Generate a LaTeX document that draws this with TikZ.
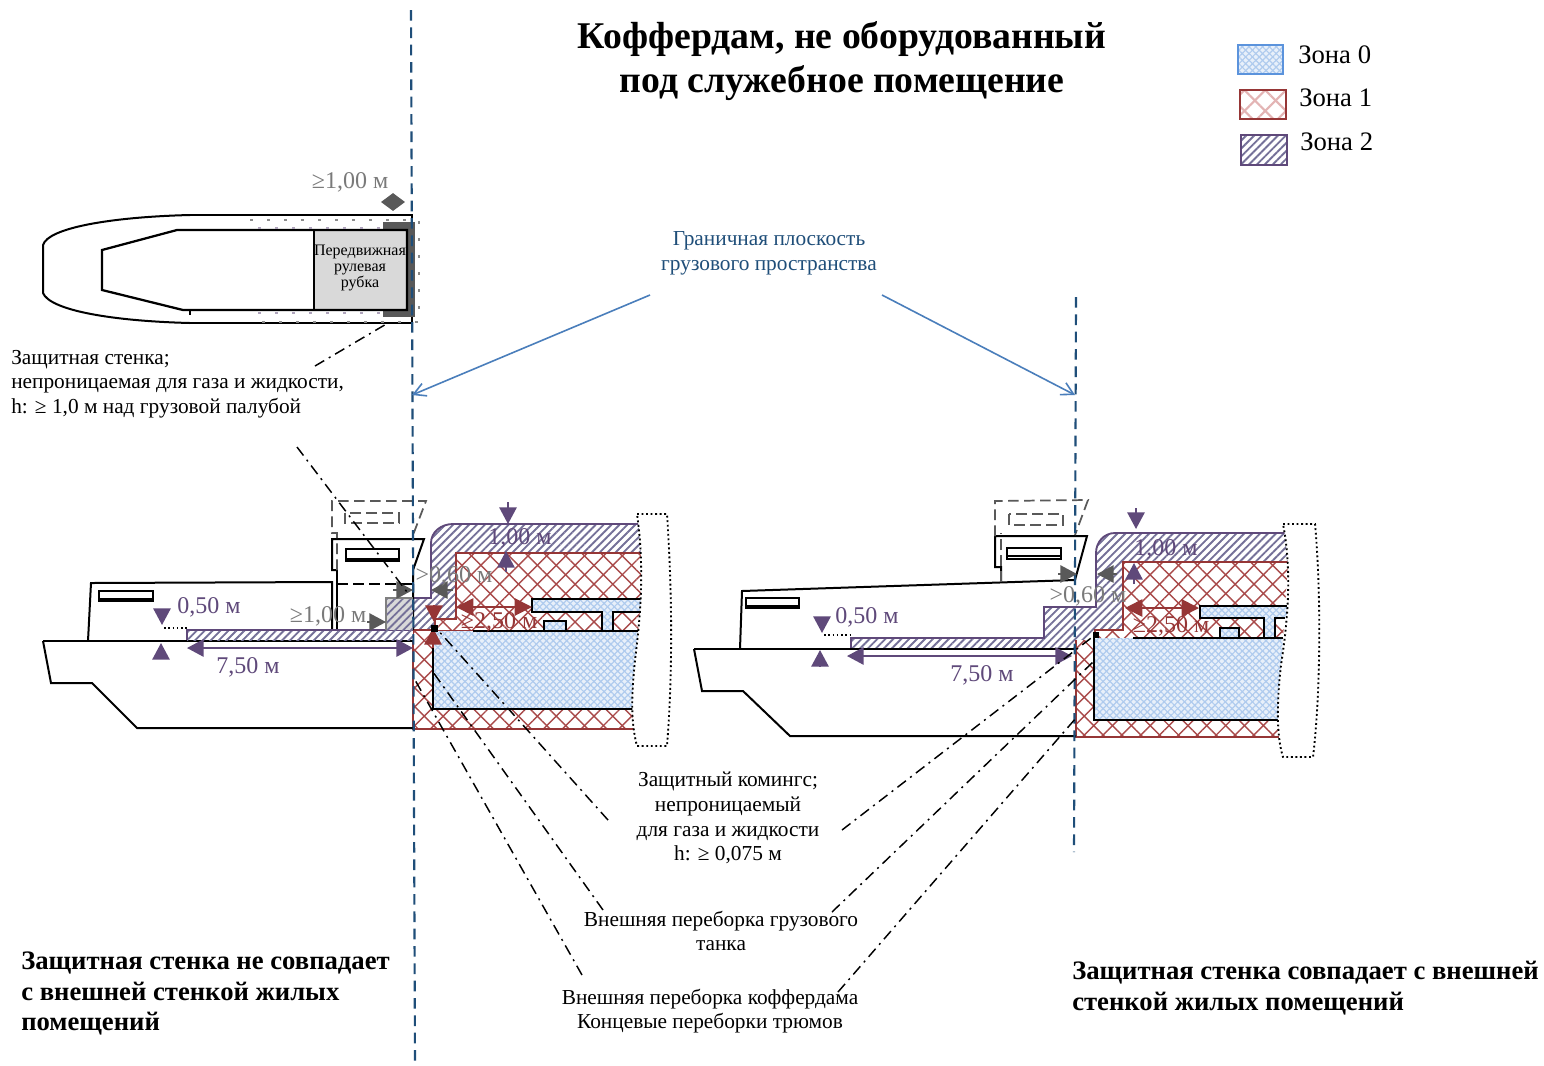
\documentclass[tikz,border=0pt]{standalone}
\usepackage{fontspec}
\setmainfont{Liberation Serif}
\usetikzlibrary{arrows.meta,patterns.meta}
\definecolor{zbase}{HTML}{E8F0FA}
\definecolor{zblue}{HTML}{AFCBEE}
\definecolor{zblueedge}{HTML}{5B93DC}
\definecolor{zred}{HTML}{A94A4A}
\definecolor{zpale}{HTML}{E3B4B4}
\definecolor{zrededge}{HTML}{963636}
\definecolor{zpurp}{HTML}{747098}
\definecolor{zpurpedge}{HTML}{5F497A}
\definecolor{dimgrey}{HTML}{595959}
\definecolor{txtgrey}{HTML}{7A7A7A}
\definecolor{planeblue}{HTML}{1F4E79}
\definecolor{arrowblue}{HTML}{4A7EBB}
\tikzset{
 zoneA/.style={fill=zbase,
   postaction={pattern={Lines[angle=45,distance=3.6pt,line width=.9pt]},pattern color=zblue},
   postaction={pattern={Lines[angle=-45,distance=3.6pt,line width=.9pt]},pattern color=zblue}},
 zoneB/.style={fill=white,
   postaction={pattern={Lines[angle=45,distance=10pt,line width=1.05pt]},pattern color=zred},
   postaction={pattern={Lines[angle=-45,distance=10pt,line width=1.05pt]},pattern color=zred}},
 zoneBpale/.style={fill=white,
   postaction={pattern={Lines[angle=45,distance=11pt,line width=1.5pt]},pattern color=zpale},
   postaction={pattern={Lines[angle=-45,distance=11pt,line width=1.5pt]},pattern color=zpale}},
 zoneC/.style={fill=white,
   postaction={pattern={Lines[angle=45,distance=4.2pt,line width=1.4pt]},pattern color=zpurp}},
 hull/.style={draw=black,line width=1.5pt,line join=miter},
 redline/.style={draw=zrededge,line width=1.4pt},
 purpline/.style={draw=zpurpedge,line width=1.4pt},
 brk/.style={draw=black,line width=1.4pt,dotted,fill=white},
 oldhouse/.style={draw=dimgrey,line width=1.3pt,dash pattern=on 8pt off 4pt},
 leader/.style={draw=black,line width=1.1pt,dash pattern=on 8pt off 4pt on 1.5pt off 4pt},
 plane/.style={draw=planeblue,line width=1.6pt,dash pattern=on 8pt off 5pt},
 pointer/.style={draw=arrowblue,line width=1.2pt,-{Straight Barb[length=9pt,width=10pt]}},
 purpdim/.style={draw=zpurpedge,line width=1.4pt,{Triangle[length=12.5pt,width=13pt]}-{Triangle[length=12.5pt,width=13pt]}},
 reddim/.style={draw=zrededge,line width=1.4pt,{Triangle[length=13pt,width=13pt]}-{Triangle[length=13pt,width=13pt]}},
 purpin/.style={draw=zpurpedge,line width=1.4pt,-{Triangle[length=12.5pt,width=13pt]}},
 greyin/.style={draw=dimgrey,line width=1.4pt,-{Triangle[length=12.5pt,width=13pt]}},
 redin/.style={draw=zrededge,line width=1.4pt,-{Triangle[length=12.5pt,width=13pt]}},
 note/.style={inner sep=0pt,font=\fontsize{16}{18.5}\selectfont,align=center,text=black},
 notel/.style={inner sep=0pt,font=\fontsize{16}{18.2}\selectfont,align=left,anchor=west,text=black},
 dimP/.style={inner sep=0pt,font=\fontsize{18}{20}\selectfont,text=zpurpedge},
 dimG/.style={inner sep=0pt,font=\fontsize{18}{20}\selectfont,text=txtgrey},
 dimR/.style={inner sep=0pt,font=\fontsize{18}{20}\selectfont,text=zrededge},
 heading/.style={inner sep=0pt,font=\fontsize{20}{23}\selectfont\bfseries,align=left,anchor=west},
 legendtxt/.style={inner sep=0pt,anchor=west,font=\fontsize{20}{22}\selectfont},
}
\begin{document}
\begin{tikzpicture}[x=.75pt,y=-.75pt]
\useasboundingbox (0,0) rectangle (1544,1065);
\fill[white] (0,0) rectangle (1544,1065);

% --- legend
\path[zoneA] (1238,45) rectangle (1283,74);
\draw[draw=zblueedge,line width=1.8pt] (1238,45) rectangle (1283,74);
\path[zoneBpale] (1240,90) rectangle (1286,119);
\draw[draw=zrededge,line width=1.8pt] (1240,90) rectangle (1286,119);
\path[zoneC] (1241,135) rectangle (1287,165);
\draw[draw=zpurpedge,line width=1.8pt] (1241,135) rectangle (1287,165);
\node[legendtxt] (l0) at (1298,55) {Зона 0};
\node[legendtxt] (l1) at (1299,98) {Зона 1};
\node[legendtxt] (l2) at (1300,142) {Зона 2};

% --- title
\node[inner sep=0pt,align=center,font=\fontsize{28.3}{32.5}\selectfont\bfseries] (title) at (842,61) {Коффердам, не оборудованный\\под служебное помещение};

% --- plan view
\draw[hull] (190,215) .. controls (110,217) and (48,228) .. (43,245) -- (43,293) .. controls (50,310) and (110,321) .. (190,323);
\draw[hull] (190,215) -- (412,215) -- (412,323) -- (190,323);
\fill[dimgrey] (383,222) rectangle (415,317);
\fill[fill=black!15] (314,230) rectangle (407,310);
\draw[hull,line width=1.7pt] (177,230) -- (407,230) -- (407,310) -- (183,310) -- (102,290) -- (102,250) -- cycle;
\draw[hull] (314,230) -- (314,310);
\draw[hull,line width=1pt] (190,310) -- (190,315);
\draw[draw=black!45,line width=1pt,dash pattern=on 2pt off 10.75pt] (250,220) -- (419,220) -- (419,322) -- (250,322);
\draw[draw=zpurpedge!50,line width=1.3pt,dash pattern=on 2pt off 10.75pt] (258,228) -- (380,228) (258,313) -- (380,313);
\node[inner sep=0pt,align=center,font=\fontsize{12}{12}\selectfont] (wheel) at (360,268) {Передвижная\\рулевая\\рубка};
\node[dimG] (dtop) at (350,182) {≥1,00 м};
\coordinate (dtopa) at (381,202); \coordinate (dtopb) at (405,202);
\draw[draw=dimgrey,line width=1.4pt,{Triangle[length=9pt,width=13pt]}-{Triangle[length=9pt,width=13pt]}] (dtopa) -- (dtopb);

% --- left ship: zones
\path[zoneC] (413,598) -- (431,598) -- (431,543) .. controls (431,532) and (441,524) .. (453,524) -- (640,524) -- (642,553) -- (456,553) -- (456,619) -- (435,619) -- (435,630) -- (413,630) -- cycle;
\draw[purpline] (413,598) -- (431,598) -- (431,543) .. controls (431,532) and (441,524) .. (453,524) -- (640,524);
\path[zoneB] (456,553) -- (642,553) -- (640,631) -- (435,631) -- (435,619) -- (456,619) -- cycle;
\draw[redline] (642,553) -- (456,553) -- (456,619) -- (435,619) -- (435,631);
\draw[redline] (435,631) -- (473,631);
\path[zoneA] (433,631) -- (640,631) -- (633,709) -- (433,709) -- cycle;
\path[zoneB] (413,630) -- (433,630) -- (433,709) -- (633,709) -- (637,729) -- (413,729) -- cycle;
\draw[redline] (413,630) -- (435,630) (413,630) -- (413,729) -- (637,729);
\path[zoneA] (532,599) -- (641,599) -- (641,612) -- (613,612) -- (613,631) -- (602,631) -- (602,612) -- (532,612) -- cycle;
\path[zoneA] (544,621) rectangle (566,631);
\draw[hull] (641,599) -- (532,599) -- (532,612) -- (602,612) -- (602,631) (613,631) -- (613,612) -- (641,612);
\draw[hull] (544,631) -- (544,621) -- (566,621) -- (566,631);
\draw[hull] (473,631) -- (640,631);
\draw[hull] (433,631) -- (433,709) -- (633,709);
\path[brk] (637,514) -- (667,514) .. controls (672,590) and (673,670) .. (667,746) -- (637,746) .. controls (630,720) and (632,690) .. (635,660) .. controls (640,620) and (645,570) .. (637,514);

% --- left ship: hull
\draw[hull] (43,641) -- (413,641);
\draw[hull] (43,641) -- (51,683) -- (92,683) -- (137,728) -- (413,728);
\draw[hull] (88,641) -- (91,583) -- (332,582) -- (332,630);
\draw[hull] (337,570) -- (337,630);
\draw[hull] (337,570) -- (332,570) -- (332,539) -- (424,539) -- (413,570) -- (413,630);
\draw[hull,dash pattern=on 8pt off 4pt] (337,584) -- (413,584);
\draw[hull,fill=white] (346,549) rectangle (399,561);
\draw[hull] (346,559) -- (399,559);
\draw[hull,fill=white] (99,591) rectangle (153,601);
\draw[hull] (99,599) -- (153,599);
\path[zoneC] (187,630) rectangle (413,640);
\draw[purpline] (187,640) -- (187,630) -- (413,630);
\draw[oldhouse] (337,570) -- (337,533) -- (332,533) -- (332,501) -- (426,501) -- (413,535);
\draw[oldhouse] (345,513) rectangle (399,523);
\path[zoneC,fill=black!15] (386,598) rectangle (413,630);
\draw[draw=black!50,line width=1.5pt] (413,598) -- (386,598) -- (386,630);
\draw[draw=black,dotted,line width=1.2pt] (164,628) -- (187,628);

% --- right ship: zones
\path[zoneC] (851,638) -- (1044,638) -- (1044,607) -- (1096,607) -- (1096,553) .. controls (1096,542) and (1104,533) .. (1115,533) -- (1285,533) -- (1288,562) -- (1123,562) -- (1123,630) -- (1095,630) -- (1076,648) -- (851,648) -- cycle;
\draw[purpline] (851,648) -- (851,638) -- (1044,638) -- (1044,607) -- (1096,607) -- (1096,553) .. controls (1096,542) and (1104,533) .. (1115,533) -- (1285,533);
\path[zoneB] (1123,562) -- (1288,562) -- (1283,638) -- (1094,638) -- (1095,630) -- (1123,630) -- cycle;
\draw[redline] (1288,562) -- (1123,562) -- (1123,630) -- (1095,630) -- (1094,638);
\path[zoneA] (1094,638) -- (1283,638) -- (1278,720) -- (1094,720) -- cycle;
\path[zoneB] (1076,640) -- (1094,640) -- (1094,720) -- (1278,720) -- (1282,737) -- (1076,737) -- cycle;
\draw[redline] (1076,640) -- (1076,737) -- (1282,737);
\path[zoneA] (1200,606) -- (1287,606) -- (1287,618) -- (1275,618) -- (1275,638) -- (1264,638) -- (1264,618) -- (1200,618) -- cycle;
\path[zoneA] (1220,628) rectangle (1239,638);
\draw[hull] (1287,606) -- (1200,606) -- (1200,618) -- (1264,618) -- (1264,638) (1275,638) -- (1275,618) -- (1285,618);
\draw[hull] (1220,638) -- (1220,628) -- (1239,628) -- (1239,638);
\draw[hull] (1133,638) -- (1283,638);
\draw[hull] (1094,638) -- (1094,720) -- (1278,720);
\path[brk] (1283,524) -- (1315,524) .. controls (1321,590) and (1321,690) .. (1313,757) -- (1283,757) .. controls (1276,735) and (1277,700) .. (1281,665) .. controls (1288,620) and (1292,570) .. (1283,524);

% --- right ship: hull
\draw[hull] (694,649) -- (1076,649);
\draw[hull] (694,649) -- (702,691) -- (743,691) -- (790,736) -- (1076,736);
\draw[hull] (740,649) -- (742,591) -- (1075,580);
\draw[hull] (1001,582) -- (1001,567) -- (995,567) -- (995,536) -- (1087,536) -- (1075,580);
\draw[hull,fill=white] (1007,548) rectangle (1061,559);
\draw[hull] (1007,556) -- (1061,556);
\draw[hull,fill=white] (746,598) rectangle (799,608);
\draw[hull] (746,606) -- (799,606);
\draw[oldhouse] (1001,582) -- (1001,533);
\draw[oldhouse] (995,536) -- (995,501) -- (1088,500) -- (1075,535);
\draw[oldhouse] (1009,514) rectangle (1063,525);
\draw[draw=black,dotted,line width=1.2pt] (824,635) -- (851,635);

% --- datum planes
\coordinate (pl1a) at (411,10); \coordinate (pl1b) at (415,1065);
\coordinate (pl2a) at (1076,297); \coordinate (pl2b) at (1074,852);
\draw[plane] (pl1a) -- (pl1b);
\draw[plane] (pl2a) -- (pl2b);

% --- dimension marks, left
\coordinate (a1) at (508,502); \coordinate (a2) at (508,524);
\coordinate (a3) at (506,572); \coordinate (a4) at (506,551);
\draw[purpin] (a1) -- (a2); \draw[purpin] (a3) -- (a4);
\node[dimP] (d100a) at (520,538) {1,00 м};
\coordinate (a5) at (393,590); \coordinate (a6) at (413,590);
\coordinate (a7) at (453,590); \coordinate (a8) at (431,590);
\draw[greyin] (a5) -- (a6); \draw[greyin] (a7) -- (a8);
\node[dimG] (d060a) at (454,576) {>0,60 м};
\coordinate (a9) at (456,607); \coordinate (a10) at (532,607);
\draw[reddim] (a9) -- (a10);
\node[dimR] (d250a) at (499,622) {≥2,50 м};
\coordinate (a11) at (434,605); \coordinate (a12) at (434,622);
\coordinate (a13) at (433,648); \coordinate (a14) at (433,628);
\draw[redin] (a11) -- (a12); \draw[redin] (a13) -- (a14);
\fill[black] (431,625) rectangle (438,632);
\node[dimG] (d100b) at (328,616) {≥1,00 м};
\coordinate (a15) at (367,622); \coordinate (a16) at (386,622);
\draw[greyin] (a15) -- (a16);
\node[dimP] (d050a) at (209,607) {0,50 м};
\coordinate (a17) at (162,609); \coordinate (a18) at (162,625);
\coordinate (a19) at (161,658); \coordinate (a20) at (161,643);
\draw[purpin] (a17) -- (a18); \draw[purpin] (a19) -- (a20);
\coordinate (a21) at (187,648); \coordinate (a22) at (413,648);
\draw[purpdim] (a21) -- (a22);
\node[dimP] (d750a) at (248,667) {7,50 м};

% --- dimension marks, right
\coordinate (b1) at (1136,508); \coordinate (b2) at (1136,529);
\coordinate (b3) at (1134,584); \coordinate (b4) at (1134,563);
\draw[purpin] (b1) -- (b2); \draw[purpin] (b3) -- (b4);
\node[dimP] (d100c) at (1166,549) {1,00 м};
\coordinate (b5) at (1058,574); \coordinate (b6) at (1077,574);
\coordinate (b7) at (1117,574); \coordinate (b8) at (1097,574);
\draw[greyin] (b5) -- (b6); \draw[greyin] (b7) -- (b8);
\node[dimG] (d060b) at (1088,596) {>0,60 м};
\coordinate (b9) at (1125,608); \coordinate (b10) at (1199,608);
\draw[reddim] (b9) -- (b10);
\fill[black] (1093,632) rectangle (1099,638);
\node[dimR] (d250b) at (1171,626) {≥2,50 м};
\node[dimP] (d050b) at (867,617) {0,50 м};
\coordinate (b11) at (822,617); \coordinate (b12) at (822,633);
\coordinate (b13) at (820,666); \coordinate (b14) at (820,650);
\draw[purpin] (b11) -- (b12); \draw[purpin] (b13) -- (b14);
\coordinate (b15) at (847,656); \coordinate (b16) at (1072,656);
\draw[purpdim] (b15) -- (b16);
\node[dimP] (d750b) at (982,675) {7,50 м};

% --- notes
\node[note,text=planeblue] (plane) at (769,253) {Граничная плоскость\\грузового пространства};
\coordinate (p1) at (650,295); \coordinate (p1t) at (412,395);
\coordinate (p2) at (882,295); \coordinate (p2t) at (1075,395);
\draw[pointer] (p1) -- (p1t);
\draw[pointer] (p2) -- (p2t);
\node[notel] (wall) at (11,384) {Защитная стенка;\\непроницаемая для газа и жидкости,\\h: ≥ 1,0 м над грузовой палубой};
\node[note] (coam) at (728,818) {Защитный комингс;\\непроницаемый\\для газа и жидкости\\h: ≥ 0,075 м};
\node[note] (tank) at (721,931) {Внешняя переборка грузового\\танка};
\node[note] (coff) at (710,1011) {Внешняя переборка коффердама\\Концевые переборки трюмов};
\node[heading] (hl) at (21,993.5) {Защитная стенка не совпадает\\с внешней стенкой жилых\\помещений};
\node[heading] (hr) at (1072,988) {Защитная стенка совпадает с внешней\\стенкой жилых помещений};

% --- leaders
\coordinate (w1) at (315,366); \coordinate (w1t) at (388,323);
\coordinate (w2) at (297,447); \coordinate (w2t) at (407,592);
\coordinate (c1) at (608,820); \coordinate (c1t) at (436,628);
\coordinate (t1) at (603,910); \coordinate (t1t) at (433,672);
\coordinate (k1) at (582,975); \coordinate (k1t) at (415,680);
\coordinate (c2) at (842,830); \coordinate (c2t) at (1095,635);
\coordinate (t2) at (832,912); \coordinate (t2t) at (1093,662);
\coordinate (k2) at (838,992); \coordinate (k2t) at (1076,718);
\draw[leader] (w1) -- (w1t);
\draw[leader] (w2) -- (w2t);
\draw[leader] (c1) -- (c1t);
\draw[leader] (t1) -- (t1t);
\draw[leader] (k1) -- (k1t);
\draw[leader] (c2) -- (c2t);
\draw[leader] (t2) -- (t2t);
\draw[leader] (k2) -- (k2t);
\end{tikzpicture}
\end{document}
